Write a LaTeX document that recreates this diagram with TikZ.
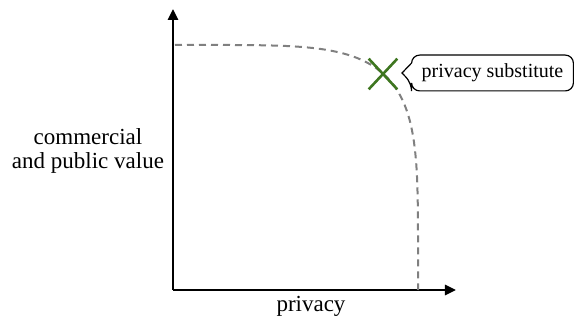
\documentclass[tikz,border=0pt]{standalone}
\usepackage{fontspec}
\setmainfont{Liberation Serif}
\usepackage{tikz}
\usetikzlibrary{shapes,arrows.meta,positioning,calc}
\definecolor{subgreen}{RGB}{62,118,32}

\begin{document}
\begin{tikzpicture}[x=0.5pt, y=-0.5pt, every node/.style={font=\fontsize{11.5}{12}\selectfont}]
\useasboundingbox (0,0) rectangle (575,321);
\coordinate (o) at (173,290);
\coordinate (xend) at (456,290);
\coordinate (yend) at (173,9);
\draw[line width=1.3pt, -{Triangle[length=5.5pt, width=5pt]}] (o) -- (xend);
\draw[line width=1.3pt, -{Triangle[length=5.5pt, width=5pt]}] (o) -- (yend);
\coordinate (top) at (175,45);
\coordinate (foot) at (418,290);
\draw[gray, line width=1pt, dash pattern=on 3.5pt off 2.5pt]
  (top) -- plot[domain=89.5:0.5, samples=120, smooth] ({173+245*pow(cos(\x),0.4)}, {290-245*pow(sin(\x),0.4)}) -- (foot);
\node[cross out, draw=subgreen, line width=1.3pt, minimum width=13pt, minimum height=14pt, inner sep=0pt] (sub) at (383,74) {};
\coordinate (tip) at (402,73);
\node[font=\fontsize{10}{11}\selectfont, minimum width=80.5pt, minimum height=17.5pt, inner sep=2pt] (lab) at (492.5,73) {privacy substitute};
\draw[line width=0.6pt] (tip) -- ([yshift=5pt]lab.west) [rounded corners=4pt] -- (lab.north west) -- (lab.north east) -- (lab.south east) -- (lab.south west) -- ([yshift=-5pt]lab.west) [sharp corners] -- cycle;
\node[anchor=base] (xlab) at (311,312) {privacy};
\node[align=center] (ylab) at (88,151) {commercial\\and public value};
\end{tikzpicture}
\end{document}
